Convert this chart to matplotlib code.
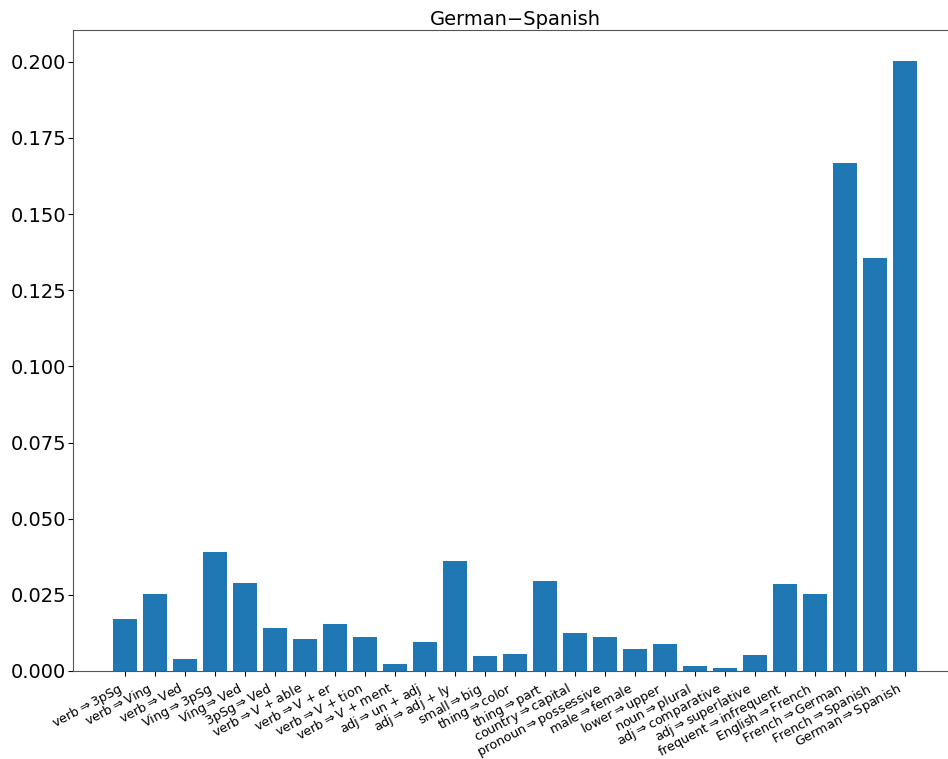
import numpy as np
import matplotlib
matplotlib.use('Agg')
import matplotlib.pyplot as plt

arrow = r'$\Rightarrow$'
pairs = [('verb', '3pSg'), ('verb', 'Ving'), ('verb', 'Ved'), ('Ving', '3pSg'), ('Ving', 'Ved'),
         ('3pSg', 'Ved'), ('verb', 'V + able'), ('verb', 'V + er'), ('verb', 'V + tion'),
         ('verb', 'V + ment'), ('adj', 'un + adj'), ('adj', 'adj + ly'), ('small', 'big'),
         ('thing', 'color'), ('thing', 'part'), ('country', 'capital'), ('pronoun', 'possessive'),
         ('male', 'female'), ('lower', 'upper'), ('noun', 'plural'), ('adj', 'comparative'),
         ('adj', 'superlative'), ('frequent', 'infrequent'), ('English', 'French'),
         ('French', 'German'), ('French', 'Spanish'), ('German', 'Spanish')]
labels = [a + arrow + b for a, b in pairs]
values = [0.0171, 0.0253, 0.0039, 0.0391, 0.0290, 0.0141, 0.0105, 0.0155, 0.0112,
          0.0023, 0.0095, 0.0362, 0.0049, 0.0056, 0.0296, 0.0125, 0.0112, 0.0072,
          0.0089, 0.0016, 0.0010, 0.0053, 0.0286, 0.0253, 0.1668, 0.1355, 0.2004]

fig = plt.figure(figsize=(9.48, 7.59), dpi=100)
ax = fig.add_axes([73 / 948, 88 / 759, 884 / 948, 641 / 759])
x = np.arange(len(labels))
ax.bar(x, values, color='#1f77b4')
ax.set_xticks(x)
ax.set_xticklabels(labels, rotation=28, ha='right', fontsize=9.2)
ax.tick_params(axis='y', labelsize=14, pad=1.5)
ax.set_title('German\u2212Spanish', fontsize=14, pad=3.5)
for s in ax.spines.values():
    s.set_color('#555555')
fig.savefig('out.png', dpi=100)
